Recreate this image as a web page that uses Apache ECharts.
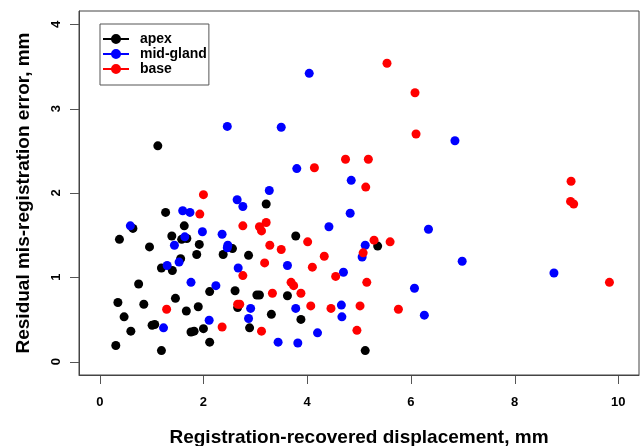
<!DOCTYPE html>
<html>
<head>
<meta charset="utf-8">
<script src="https://cdn.jsdelivr.net/npm/echarts@6/dist/echarts.min.js"></script>
<style>
  html, body { margin: 0; padding: 0; background: #fff; }
  #chart { width: 640px; height: 446px; }
</style>
</head>
<body>
<div id="chart"></div>
<script>
// points: [displacement, residual error]
var apex = [
  [1.12, 2.56], [3.21, 1.87], [3.78, 1.49], [5.36, 1.37], [3.62, 0.78], [3.08, 0.79],
  [3.31, 0.56], [3.88, 0.50], [5.12, 0.13], [1.27, 1.77], [0.64, 1.58], [1.63, 1.61],
  [0.38, 1.45], [1.39, 1.49], [1.58, 1.45], [1.68, 1.46], [1.92, 1.39], [0.96, 1.36],
  [2.56, 1.34], [2.87, 1.26], [1.87, 1.27], [2.38, 1.27], [1.56, 1.22], [1.19, 1.11],
  [1.40, 1.08], [0.75, 0.92], [2.12, 0.83], [2.61, 0.84], [3.03, 0.79], [1.46, 0.75],
  [0.35, 0.70], [0.85, 0.68], [1.90, 0.65], [1.67, 0.60], [2.66, 0.64], [0.47, 0.53],
  [1.01, 0.43], [1.06, 0.44], [2.89, 0.40], [0.60, 0.36], [1.76, 0.35], [1.82, 0.36],
  [2.00, 0.39], [2.12, 0.23], [0.31, 0.19], [1.19, 0.13]
];
var midGland = [
  [4.04, 3.42], [2.46, 2.79], [3.50, 2.78], [3.80, 2.29], [4.85, 2.15], [3.27, 2.03],
  [6.85, 2.62], [6.99, 1.19], [8.76, 1.05], [4.83, 1.76], [4.42, 1.60], [6.34, 1.57],
  [5.12, 1.38], [5.06, 1.24], [3.62, 1.14], [4.70, 1.06], [6.07, 0.87], [3.78, 0.63],
  [4.66, 0.67], [6.26, 0.55], [4.67, 0.53], [4.20, 0.34], [3.44, 0.23], [3.82, 0.22],
  [1.60, 1.79], [1.74, 1.77], [2.65, 1.92], [2.76, 1.84], [0.59, 1.61], [1.98, 1.54],
  [1.64, 1.48], [2.36, 1.51], [1.44, 1.38], [2.47, 1.38], [2.46, 1.35], [1.53, 1.18],
  [1.30, 1.14], [2.67, 1.11], [1.76, 0.94], [2.24, 0.90], [2.91, 0.63], [2.87, 0.51],
  [1.23, 0.40], [2.11, 0.49]
];
var base = [
  [4.74, 2.40], [4.14, 2.30], [2.00, 1.98], [5.54, 3.54], [6.08, 3.19], [6.10, 2.70],
  [5.18, 2.40], [5.13, 2.07], [9.09, 2.14], [9.08, 1.90], [9.14, 1.87], [9.83, 0.94],
  [3.21, 1.65], [3.08, 1.60], [3.12, 1.55], [4.01, 1.42], [3.28, 1.38], [3.50, 1.33],
  [5.29, 1.44], [5.60, 1.42], [5.08, 1.29], [4.33, 1.25], [3.18, 1.17], [4.10, 1.12],
  [4.55, 1.01], [5.15, 0.94], [3.69, 0.94], [3.74, 0.90], [3.88, 0.81], [3.33, 0.81],
  [4.07, 0.66], [4.46, 0.63], [5.02, 0.66], [5.76, 0.62], [3.12, 0.36], [4.96, 0.37],
  [1.93, 1.75], [2.76, 1.61], [2.76, 1.02], [1.29, 0.62], [2.66, 0.68], [2.70, 0.68],
  [2.36, 0.41]
];
var xTicks = [0, 2, 4, 6, 8, 10];
var yTicks = [0, 1, 2, 3, 4];
var xRange = [-0.4, 10.4];
var yRange = [-0.16, 4.16];

var font = "'Liberation Sans', Arial, sans-serif";
var chart = echarts.init(document.getElementById('chart'));

var option = {
  animation: false,
  textStyle: { fontFamily: font },
  grid: {
    left: 79, right: 1, top: 11, bottom: 71,
    outerBoundsMode: 'none',
    containLabel: false,
    show: true, borderColor: '#444', borderWidth: 1
  },
  legend: {
    orient: 'vertical',
    left: 100, top: 24,
    padding: [8, 2, 9, 3],
    itemWidth: 26, itemHeight: 10, itemGap: 1,
    borderColor: '#555', borderWidth: 1,
    // line with a dot, like the R legend
    icon: 'path://M0,4H26V6H0Z M8,5A5,5 0 1,1 18,5A5,5 0 1,1 8,5Z',
    textStyle: {
      fontFamily: font, fontSize: 14, fontWeight: 'bold', color: '#000',
      lineHeight: 14, padding: [0, 0, 0, 6]
    },
    data: ['apex', 'mid-gland', 'base']
  },
  xAxis: {
    type: 'value',
    min: xRange[0], max: xRange[1],
    name: 'Registration-recovered displacement, mm',
    nameLocation: 'middle', nameGap: 53,
    nameTextStyle: { fontFamily: font, fontSize: 19, fontWeight: 'bold', color: '#000' },
    axisLine: { show: true, onZero: false, lineStyle: { color: '#444', width: 1 } },
    axisTick: { show: false },
    axisLabel: {
      customValues: xTicks, margin: 21,
      fontFamily: font, fontSize: 13, fontWeight: 'bold', color: '#000'
    },
    splitLine: { show: false }
  },
  yAxis: {
    type: 'value',
    min: yRange[0], max: yRange[1],
    name: 'Residual mis-registration error, mm',
    nameLocation: 'middle', nameGap: 46, nameRotate: 90,
    nameTextStyle: { fontFamily: font, fontSize: 19, fontWeight: 'bold', color: '#000' },
    axisLine: { show: true, onZero: false, lineStyle: { color: '#444', width: 1 } },
    axisTick: { show: false },
    axisLabel: {
      customValues: yTicks, margin: 16, rotate: 90,
      fontFamily: font, fontSize: 13, fontWeight: 'bold', color: '#000'
    },
    splitLine: { show: false }
  },
  series: [
    { name: 'apex', type: 'scatter', data: apex, symbolSize: 9, itemStyle: { color: '#000000', opacity: 1 } },
    { name: 'mid-gland', type: 'scatter', data: midGland, symbolSize: 9, itemStyle: { color: '#0000ff', opacity: 1 } },
    { name: 'base', type: 'scatter', data: base, symbolSize: 9, itemStyle: { color: '#ff0000', opacity: 1 } }
  ]
};
chart.setOption(option);

// the axis ticks would not show off the zero line, so draw them from the axis scales
var tickLines = [];
var bottomY = chart.convertToPixel({ yAxisIndex: 0 }, yRange[0]);
var leftX = chart.convertToPixel({ xAxisIndex: 0 }, xRange[0]);
xTicks.forEach(function (v) {
  var px = Math.round(chart.convertToPixel({ xAxisIndex: 0 }, v)) + 0.5;
  tickLines.push({
    type: 'line', silent: true,
    shape: { x1: px, y1: bottomY, x2: px, y2: bottomY + 9 },
    style: { stroke: '#555', lineWidth: 1 }
  });
});
yTicks.forEach(function (v) {
  var py = Math.round(chart.convertToPixel({ yAxisIndex: 0 }, v)) + 0.5;
  tickLines.push({
    type: 'line', silent: true,
    shape: { x1: leftX - 9, y1: py, x2: leftX, y2: py },
    style: { stroke: '#555', lineWidth: 1 }
  });
});
chart.setOption({ graphic: tickLines });
</script>
</body>
</html>
